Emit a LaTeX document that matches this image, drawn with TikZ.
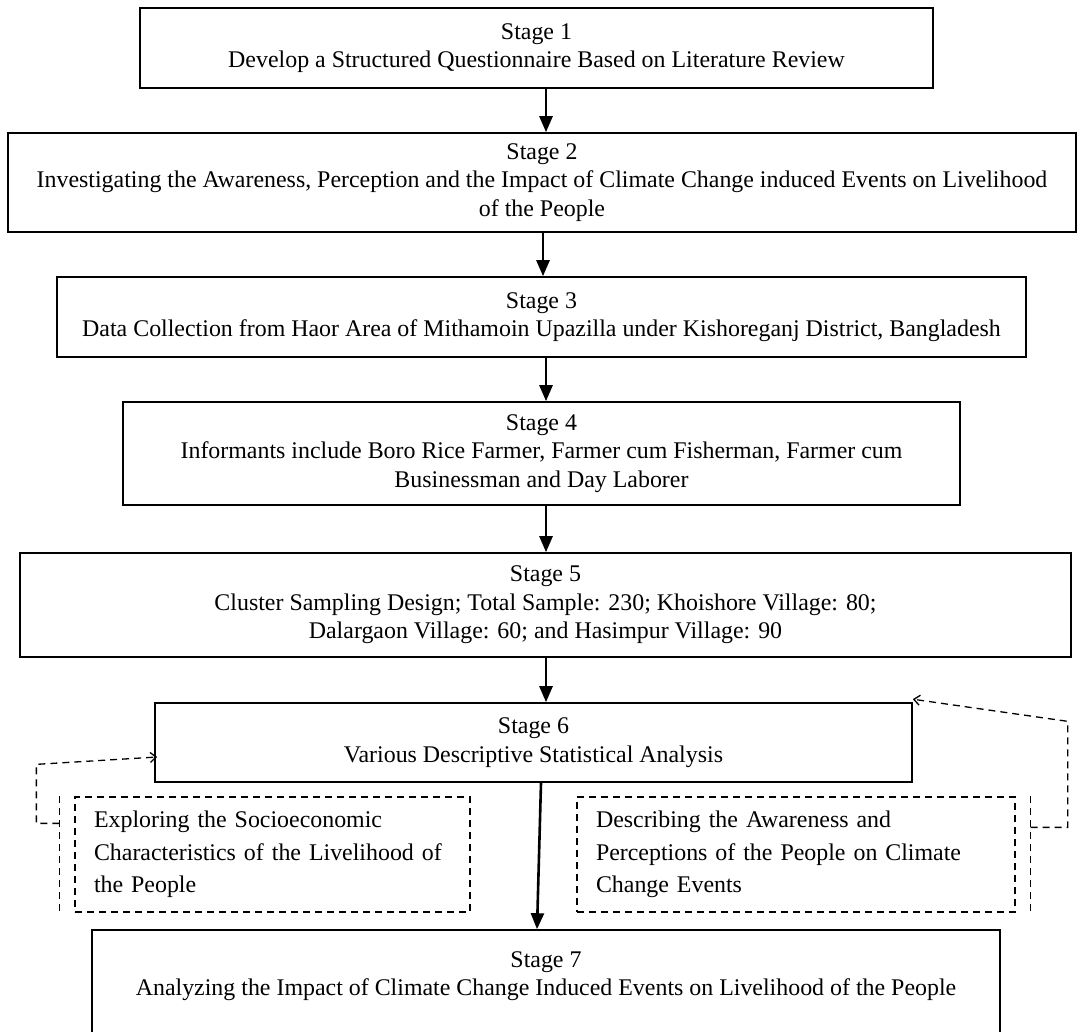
\documentclass[tikz,border=0pt]{standalone}
\usepackage{fontspec}
\setmainfont{Liberation Serif}
\usetikzlibrary{arrows.meta,calc}
\begin{document}
\begin{tikzpicture}[x=1pt,y=-1pt,
  stagebox/.style={draw, line width=1.6pt, align=center, inner sep=0pt, font=\fontsize{23.9}{28.5}\selectfont},
  sidebox/.style={draw, dash pattern=on 7pt off 5pt, line width=1.3pt, align=left, inner xsep=19pt, inner ysep=0pt, font=\fontsize{23.9}{32.5}\selectfont},
  dashline/.style={line width=1.3pt, dash pattern=on 7pt off 5pt},
  flow/.style={line width=2.6pt, -{Triangle[length=16pt,width=13pt]}},
  loopback/.style={dashline, -{Straight Barb[length=6pt,width=10pt]}}]
\useasboundingbox (0,0) rectangle (1082,1032);
\fill[white] (0,0) rectangle (1082,1032);

\node[stagebox, minimum width=793pt, minimum height=80pt] (s1) at (536.5,48)
  {Stage 1\\Develop a Structured Questionnaire Based on Literature Review};
\node[stagebox, minimum width=1068pt, minimum height=99pt] (s2) at (542,182.5)
  {Stage 2\\Investigating the Awareness, Perception and the Impact of Climate Change induced Events on Livelihood\\of the People};
\node[stagebox, minimum width=969pt, minimum height=80pt] (s3) at (541.5,317)
  {Stage 3\\Data Collection from Haor Area of Mithamoin Upazilla under Kishoreganj District, Bangladesh};
\node[stagebox, minimum width=837pt, minimum height=103pt] (s4) at (541.5,453.5)
  {Stage 4\\Informants include Boro Rice Farmer, Farmer cum Fisherman, Farmer cum\\Businessman and Day Laborer};
\node[stagebox, minimum width=1051pt, minimum height=104pt] (s5) at (545.5,605)
  {Stage 5\\Cluster Sampling Design; Total Sample: 230; Khoishore Village: 80;\\Dalargaon Village: 60; and Hasimpur Village: 90};
\node[stagebox, minimum width=757pt, minimum height=79pt] (s6) at (533.5,742.5)
  {Stage 6\\Various Descriptive Statistical Analysis};
\node[stagebox, minimum width=908pt, minimum height=116pt] (s7) at (546,988)
  {Stage 7\\Analyzing the Impact of Climate Change Induced Events on Livelihood of the People\\\mbox{}};

\node[sidebox, text width=357pt, minimum height=115pt] (lb) at (272.5,854.5)
  {Exploring the Socioeconomic\\Characteristics of the Livelihood of\\the People};
\node[sidebox, text width=400pt, minimum height=115pt] (rb) at (796,854.5)
  {Describing the Awareness and\\Perceptions of the People on Climate\\Change Events};

% main flow
\coordinate (ax) at (546,0);
\coordinate (axb) at (543,0);
\coordinate (ax6) at (541,0);
\coordinate (ax7) at (537,0);
\draw[flow] (s1.south -| ax) -- (s2.north -| ax);
\draw[flow] (s2.south -| axb) -- (s3.north -| axb);
\draw[flow] (s3.south -| ax) -- (s4.north -| ax);
\draw[flow] (s4.south -| ax) -- (s5.north -| ax);
\draw[flow] (s5.south -| ax) -- (s6.north -| ax);
\draw[flow] (s6.south -| ax6) -- (s7.north -| ax7);

% left bracket and loop
\draw[dashline] ($(lb.north west)+(-15,0)$) coordinate (lt) -- ($(lb.south west)+(-15,0)$);
\draw[loopback] ($(lt)+(0,27)$) -- ++(-23,0) -- ++(0,-59) -- ($(s6.west)+(3,14.5)$);

% right bracket and loop
\draw[dashline] ($(rb.north east)+(15,0)$) coordinate (rt) -- ($(rb.south east)+(15,0)$);
\draw[loopback] ($(rt)+(0,31)$) -- ++(37,0) -- ++(0,-106) -- ($(s6.north east)+(0,-3)$);
\end{tikzpicture}
\end{document}
